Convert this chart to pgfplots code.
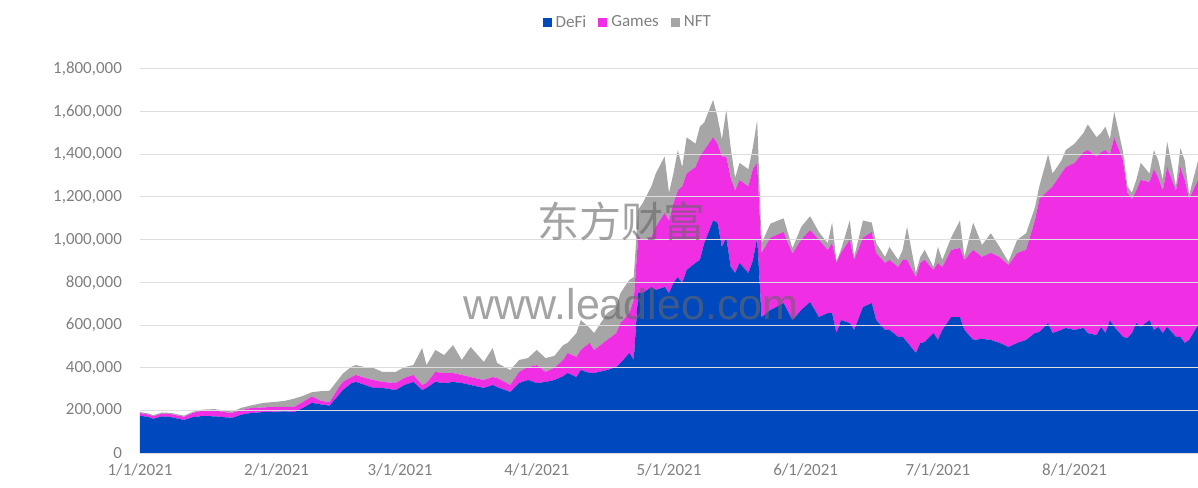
\documentclass[border=0pt]{standalone}
\usepackage{fontspec}
\setmainfont{Carlito}
\newfontfamily\cjk{Noto Sans CJK SC}
\newfontfamily\wmfont{Liberation Sans}
\usepackage{pgfplots}
\usepackage{pgfplotstable}
\pgfplotsset{compat=1.18}
\definecolor{defi}{RGB}{0,72,190}
\definecolor{games}{RGB}{240,46,228}
\definecolor{nft}{RGB}{166,166,166}
\definecolor{txt}{RGB}{128,128,128}
\definecolor{gridc}{RGB}{222,222,222}

% values in thousands
\pgfplotstableread{
day defi games nft
0 175 12 5
2 168 12 5
3 160 12 5
5 172 13 5
7 168 14 6
10 155 15 5
12 168 20 5
14 173 25 5
17 172 28 6
19 168 24 6
21 165 23 7
23 180 22 10
25 187 23 12
28 192 22 21
31 194 22 24
33 195 21 29
35 192 24 39
37 212 28 28
39 235 30 20
41 228 17 45
43 222 16 54
45 270 35 40
46 295 38 39
48 328 28 49
49 333 33 46
51 319 33 51
53 305 37 56
55 305 28 47
58 295 33 52
60 319 33 51
62 333 33 46
64 295 24 173
65 305 23 84
67 333 47 103
69 328 47 84
71 333 42 131
73 328 38 70
75 319 37 141
78 305 37 85
80 319 37 136
81 309 43 70
84 286 33 70
86 328 52 56
88 342 61 42
90 328 84 71
92 333 47 65
94 342 58 55
96 360 76 70
97 375 94 47
99 356 94 112
100 389 94 140
102 375 141 70
103 375 108 79
106 389 141 126
108 403 159 122
109 422 187 141
111 469 187 155
112 436 281 108
113 750 263 127
114 750 250 170
116 778 232 240
117 764 296 250
119 778 347 265
120 750 340 130
121 797 373 140
122 825 405 190
123 797 453 90
124 858 452 170
126 891 449 110
127 905 485 140
128 984 436 130
130 1090 390 175
131 1080 370 125
132 966 424 80
133 1010 380 220
134 872 418 140
135 844 386 60
136 891 389 80
138 844 406 80
139 900 430 100
140 1010 350 200
141 637 301 46
143 670 340 65
146 703 333 64
148 623 312 25
150 670 330 60
152 708 337 65
154 637 363 36
156 656 296 32
157 656 328 96
158 562 329 9
159 623 315 14
161 609 391 90
162 577 328 14
164 684 326 80
166 703 333 44
167 623 315 46
169 577 314 28
170 577 328 61
172 544 328 33
173 544 361 47
174 520 385 155
176 469 356 20
177 516 375 28
178 520 385 47
180 562 296 14
181 530 361 75
182 577 295 33
184 637 315 58
186 637 324 129
187 577 328 14
189 530 422 128
191 535 385 55
193 530 408 92
195 516 403 47
197 497 384 15
199 516 422 62
201 530 422 78
203 562 528 60
204 567 623 60
206 609 621 170
207 562 688 60
209 577 733 60
210 586 754 80
212 577 783 90
214 586 824 90
215 562 858 120
217 553 837 90
218 591 819 90
219 562 858 110
220 623 777 70
221 591 889 120
223 544 826 40
224 539 681 30
225 562 628 30
226 609 621 50
227 591 689 80
229 623 647 40
230 577 753 90
231 591 699 80
232 562 668 50
233 591 749 120
235 544 686 20
236 544 796 90
237 516 764 90
238 530 660 20
240 600 680 90
}\data

\begin{document}
\begin{tikzpicture}
\path[use as bounding box] (-70pt,-17pt) rectangle (529pt,226.5pt);
\begin{axis}[
  at={(0,0)}, anchor=south west,
  scale only axis, width=529pt, height=192pt,
  xmin=0, xmax=240, ymin=0, ymax=1800,
  stack plots=y, area style,
  axis line style={draw=none},
  major tick length=0pt,
  ymajorgrids, grid style={gridc, line width=0.5pt},
  ytick={0,200,...,1800},
  yticklabels={0,{200,000},{400,000},{600,000},{800,000},{1,000,000},{1,200,000},{1,400,000},{1,600,000},{1,800,000}},
  xtick={0,31,59,90,120,151,181,212},
  xticklabels={1/1/2021,2/1/2021,3/1/2021,4/1/2021,5/1/2021,6/1/2021,7/1/2021,8/1/2021},
  tick label style={font=\fontsize{8.5}{10}\selectfont, text=txt},
  yticklabel style={xshift=-5.5pt},
  xticklabel style={yshift=-2pt},
  legend columns=-1,
  legend style={at={(0.462,1.12)}, anchor=center, draw=none, fill=none,
    font=\fontsize{8.5}{10}\selectfont, text=txt,
    /tikz/every even column/.append style={column sep=4pt}},
  legend image code/.code={\fill[#1] (0pt,-2.25pt) rectangle (4.5pt,2.25pt);},
]
\addplot[fill=defi, draw=none] table[x=day, y=defi] {\data} \closedcycle;
\addlegendentry{DeFi}
\addplot[fill=games, draw=none] table[x=day, y=games] {\data} \closedcycle;
\addlegendentry{Games}
\addplot[fill=nft, draw=none] table[x=day, y=nft] {\data} \closedcycle;
\addlegendentry{NFT}
\coordinate (wmA) at (axis cs:109.3,1088);
\coordinate (wmB) at (axis cs:111.4,624);
\end{axis}
\node[text=black!60, opacity=0.6, font=\cjk\fontsize{21}{24}\selectfont] at (wmA) {东方财富};
\node[text=black!60, opacity=0.6, font=\wmfont\fontsize{21.5}{24}\selectfont, anchor=base] at (wmB) {www.leadleo.com};
\end{tikzpicture}
\end{document}
